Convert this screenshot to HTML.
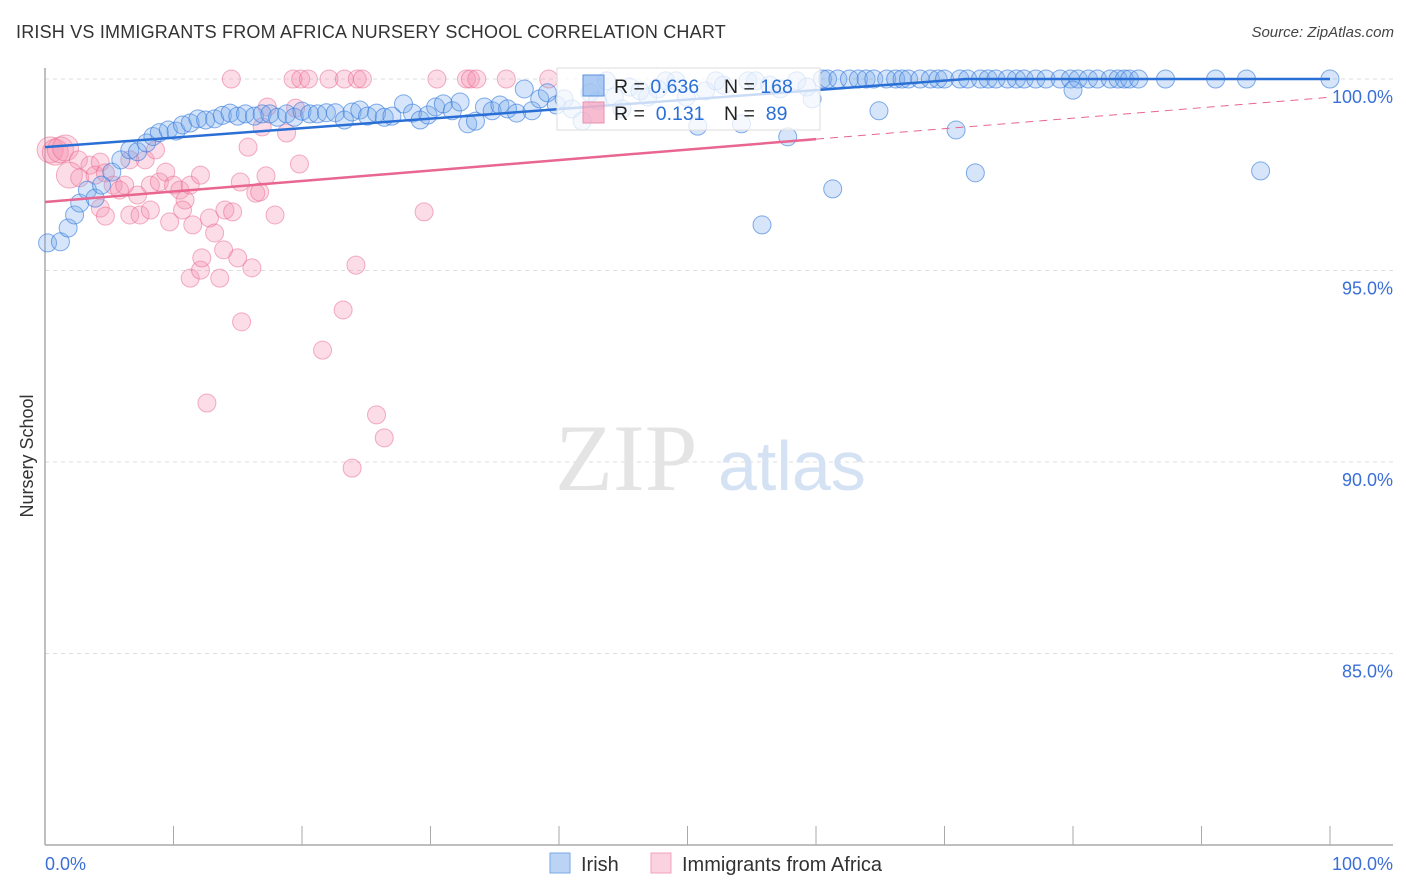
<!DOCTYPE html>
<html><head><meta charset="utf-8"><style>
body{margin:0;background:#fff;font-family:"Liberation Sans",sans-serif;}
#wrap{position:relative;width:1406px;height:892px;overflow:hidden;}
.t{position:absolute;white-space:nowrap;}
</style></head><body>
<div id="wrap">
<div class="t" style="left:16px;top:22px;font-size:18px;letter-spacing:0.2px;color:#333;">IRISH VS IMMIGRANTS FROM AFRICA NURSERY SCHOOL CORRELATION CHART</div>
<div class="t" style="right:12px;top:24px;font-size:15px;color:#444;font-style:italic;">Source: ZipAtlas.com</div>
<svg id="svg" width="1406" height="892" style="position:absolute;left:0;top:0"></svg>
</div>
<script>
const yTicks=[100,95,90,85];
const xTickLabels=["0.0%","100.0%"];
const irish=[[0.2,95.72],[1.2,95.75],[1.8,96.11],[2.3,96.45],[2.7,96.76],[3.3,97.1],[3.9,96.89],[4.4,97.23],[5.2,97.57],[5.9,97.89],[6.6,98.15],[7.2,98.1],[7.9,98.33],[8.4,98.5],[8.9,98.6],[9.6,98.67],[10.2,98.64],[10.7,98.8],[11.3,98.85],[11.9,98.96],[12.5,98.93],[13.2,98.96],[13.8,99.05],[14.4,99.11],[15.0,99.03],[15.6,99.09],[16.3,99.03],[16.9,99.09],[17.5,99.09],[18.1,99.0],[18.8,99.09],[19.4,99.0],[20.0,99.16],[20.6,99.09],[21.2,99.09],[21.9,99.12],[22.6,99.12],[23.3,98.93],[23.9,99.14],[24.5,99.19],[25.1,99.03],[25.8,99.11],[26.4,99.0],[27.0,99.03],[27.9,99.35],[28.6,99.11],[29.2,98.93],[29.8,99.06],[30.4,99.27],[31.0,99.35],[31.7,99.17],[32.3,99.4],[32.9,98.83],[33.5,98.9],[34.2,99.27],[34.8,99.17],[35.4,99.32],[36.0,99.22],[36.7,99.11],[37.3,99.74],[37.9,99.17],[38.5,99.48],[39.1,99.64],[39.8,99.32],[40.4,99.48],[41.0,99.22],[41.8,98.9],[42.4,99.64],[43.0,99.43],[43.7,99.95],[44.3,99.53],[44.9,99.22],[45.5,99.79],[46.3,99.69],[46.9,99.53],[47.7,99.74],[48.3,99.95],[49.1,99.95],[49.9,99.53],[50.8,98.77],[51.4,99.69],[52.2,99.95],[52.8,99.84],[54.2,98.83],[54.7,99.95],[55.3,99.95],[55.8,96.19],[56.4,99.84],[57.2,99.74],[57.8,98.49],[58.5,99.95],[59.3,99.79],[59.7,99.48],[60.5,100],[60.9,100],[61.7,100],[62.6,100],[63.3,100],[63.9,100],[64.5,100],[65.5,100],[66.2,100],[66.7,100],[67.2,100],[68.1,100],[68.9,100],[69.5,100],[70.0,100],[71.2,100],[71.8,100],[72.8,100],[73.4,100],[74.0,100],[74.9,100],[75.6,100],[76.2,100],[77.1,100],[77.9,100],[79.0,100],[79.8,100],[80.4,100],[81.2,100],[81.9,100],[82.9,100],[83.5,100],[84.0,100],[84.4,100],[85.1,100],[87.2,100],[91.1,100],[93.5,100],[100,100],[61.3,97.13],[64.9,99.17],[70.9,98.67],[72.4,97.55],[80.0,99.71],[94.6,97.6]];
const africa=[[14.5,100],[19.3,100],[19.9,100],[20.5,100],[22.1,100],[23.3,100],[24.3,100],[24.7,100],[30.5,100],[32.8,100],[33.1,100],[33.6,100],[35.9,100],[39.2,100],[0.4,98.15],[0.8,98.09],[1.2,98.15],[1.6,98.2],[2.6,97.89],[3.5,97.75],[4.3,97.83],[1.9,97.49],[2.7,97.42],[3.9,97.49],[4.7,97.55],[5.3,97.23],[5.8,97.1],[6.2,97.23],[4.3,96.63],[4.7,96.42],[6.6,96.45],[7.4,96.45],[8.2,96.58],[7.2,96.97],[8.2,97.23],[8.9,97.31],[9.4,97.57],[10.0,97.23],[10.5,97.1],[10.9,96.84],[10.7,96.58],[11.3,97.23],[12.1,97.49],[7.8,97.89],[8.6,98.15],[9.7,96.27],[11.5,96.19],[12.8,96.37],[13.2,95.98],[14.0,96.58],[14.6,96.53],[15.2,97.31],[15.8,98.22],[16.4,97.02],[16.7,97.05],[17.2,97.47],[16.9,98.75],[17.3,99.27],[17.9,96.45],[18.8,98.59],[19.5,99.24],[19.8,97.78],[11.3,94.8],[12.1,95.01],[12.2,95.33],[13.6,94.8],[13.9,95.54],[15.0,95.33],[16.1,95.07],[15.3,93.66],[12.6,91.54],[21.6,92.92],[23.2,93.97],[24.2,95.14],[25.8,91.23],[26.4,90.63],[23.9,89.84],[29.5,96.53],[6.6,97.89]];
const irishTrend=[98.22,99.71];
const africaTrend=[96.79,98.43];
const NS="http://www.w3.org/2000/svg";
const svg=document.getElementById('svg');
const X=v=>45+v*12.85, Y=v=>79+(100-v)*38.3;
function el(t,a,p){const e=document.createElementNS(NS,t);for(const k in a)e.setAttribute(k,a[k]);(p||svg).appendChild(e);return e;}
yTicks.forEach(v=>{const g=el('line',{x1:45,x2:1393,y1:Y(v),y2:Y(v),stroke:'#ddd','stroke-dasharray':'4,4'});


const t=el('text',{x:1393,y:Y(v)+24,'text-anchor':'end','font-size':18,fill:'#3a6fd8','font-family':'Liberation Sans'});t.textContent=v.toFixed(1)+'%';

});
const ax=el('line',{x1:45,x2:45,y1:68,y2:845,stroke:'#aaa','stroke-width':1.5});


const bx=el('line',{x1:45,x2:1393,y1:845,y2:845,stroke:'#aaa','stroke-width':1.5});


for(let i=0;i<=10;i++){const tk=el('line',{x1:X(i*10),x2:X(i*10),y1:826,y2:845,stroke:'#aaa'});

}
[[0,'start'],[100,'end']].forEach((p,i)=>{const t=el('text',{x:i?1393:45,y:870,'text-anchor':p[1],'font-size':18,fill:'#3a6fd8','font-family':'Liberation Sans'});t.textContent=xTickLabels[i];

});
const yt=el('text',{x:33,y:456,transform:'rotate(-90 33 456)','text-anchor':'middle','font-size':18,fill:'#333','font-family':'Liberation Sans'});yt.textContent='Nursery School';


const wm=el('text',{x:555,y:490,'font-size':95,fill:'#e4e4e4','font-family':'Liberation Serif'});wm.textContent='ZIP';


const wm2=el('text',{x:718,y:490,'font-size':70,fill:'#d4e2f4','font-family':'Liberation Sans'});wm2.textContent='atlas';


africa.forEach(d=>{const r=d[0]<2?13:9;const c=el('circle',{cx:X(d[0]),cy:Y(d[1]),r:r,fill:'rgba(244,143,177,0.3)',stroke:'rgba(232,100,140,0.5)','stroke-width':1});

});
irish.forEach(d=>{const c=el('circle',{cx:X(d[0]),cy:Y(d[1]),r:9,fill:'rgba(120,170,235,0.3)',stroke:'rgba(50,120,220,0.6)','stroke-width':1});

});
const sI=(irishTrend[1]-irishTrend[0])/60;
const xEnd=Math.min(100,(100-irishTrend[0])/sI);
const l1=el('polyline',{points:`${X(0)},${Y(irishTrend[0])} ${X(xEnd)},${Y(100)} ${X(100)},${Y(100)}`,fill:'none',stroke:'#2a6fd6','stroke-width':2.5});


const sA=(africaTrend[1]-africaTrend[0])/60;
const l2=el('line',{x1:X(0),y1:Y(africaTrend[0]),x2:X(60),y2:Y(africaTrend[1]),stroke:'#e8668f','stroke-width':2.5});


const l3=el('line',{x1:X(60),y1:Y(africaTrend[1]),x2:X(100),y2:Y(africaTrend[0]+sA*100),stroke:'#e8668f','stroke-width':1,'stroke-dasharray':'8,6'});


const lg=el('rect',{x:557,y:68,width:263,height:62,fill:'rgba(255,255,255,0.75)',stroke:'#ddd'});


[[0,'rgba(120,170,235,0.6)','#5a8fe0','0.636','168'],[1,'rgba(244,143,177,0.6)','#e890b0','0.131',' 89']].forEach(r=>{
const y=75+r[0]*27;
const s=el('rect',{x:583,y:y,width:21,height:21,fill:r[1],stroke:r[2]});


const t=el('text',{x:614,y:y+18,'font-size':19.5,fill:'#222','font-family':'Liberation Sans'});
t.innerHTML=`R = <tspan fill="#2a6fd6">${r[0]?'&#160;':''}${r[3]}</tspan><tspan x="724">N = </tspan><tspan fill="#2a6fd6">${r[4].replace(' ','\u00a0')}</tspan>`;

});
[[550,'rgba(120,170,235,0.5)','#7aa8e8','Irish'],[651,'rgba(244,143,177,0.4)','#f0a0bc','Immigrants from Africa']].forEach(b=>{
const s=el('rect',{x:b[0],y:853,width:20,height:20,fill:b[1],stroke:b[2]});


const t=el('text',{x:b[0]+31,y:871,'font-size':20,fill:'#333','font-family':'Liberation Sans'});t.textContent=b[3];

});
</script>
</body></html>
